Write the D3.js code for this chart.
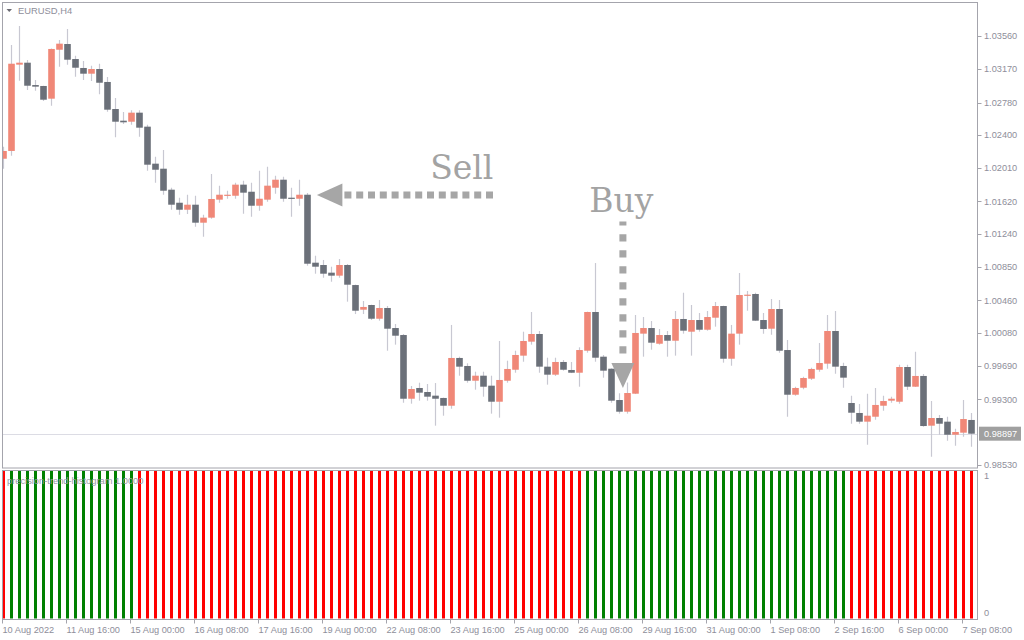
<!DOCTYPE html>
<html><head><meta charset="utf-8">
<script src="https://cdn.jsdelivr.net/npm/d3@7"></script>
<style>html,body{margin:0;padding:0;background:#fff;overflow:hidden}svg{display:block}</style>
</head><body><svg id="c" width="1024" height="640"></svg>
<script>
// ---------- DATA ----------
const symbol = "EURUSD,H4";
const indicatorName = "precision-trend-histogram 1.0000";
const open = [
1.02121,1.02212,1.03224,1.03247,1.02985,1.02974,1.02825,1.03399,1.03466,1.03290,
1.03185,1.03118,1.03173,1.03021,1.02704,1.02567,1.02555,1.02661,1.02497,1.02063,
1.02004,1.01758,1.01605,1.01523,1.01582,1.01371,1.01430,1.01641,1.01687,1.01687,
1.01817,1.01734,1.01570,1.01641,1.01781,1.01875,1.01664,1.01652,1.01699,1.00902,
1.00875,1.00785,1.00750,1.00875,1.00640,1.00351,1.00406,1.00245,1.00371,1.00136,
1.00054,0.99307,0.99433,0.99386,0.99343,0.99316,0.99225,0.99785,0.99691,0.99518,
0.99577,0.99460,0.99272,0.99518,0.99647,0.99812,0.99976,1.00066,0.99683,0.99589,
0.99738,0.99644,0.99612,0.99870,1.00324,0.99800,0.99659,0.99292,0.99155,0.99366,
1.00070,1.00136,0.99952,1.00054,0.99987,1.00242,1.00093,1.00230,1.00116,1.00257,
1.00394,0.99776,1.00070,1.00515,1.00535,1.00230,1.00128,1.00359,0.99878,0.99354,
0.99436,0.99542,0.99647,0.99718,1.00101,0.99691,0.99257,0.99140,0.99038,0.99096,
0.99225,0.99284,0.99272,0.99679,0.99448,0.99574,0.98991,0.99081,0.99038,0.98885,
0.98909,0.99058];
const high = [
1.02262,1.03454,1.03677,1.03279,1.03044,1.02978,1.03412,1.03513,1.03642,1.03329,
1.03267,1.03212,1.03235,1.03079,1.02833,1.02669,1.02689,1.02689,1.02520,1.02145,
1.02223,1.01781,1.01664,1.01699,1.01687,1.01465,1.01942,1.01805,1.01746,1.01840,
1.01863,1.01840,1.01981,1.02028,1.01922,1.01910,1.01781,1.01875,1.01719,1.00984,
1.00934,1.00855,1.00945,1.00887,1.00645,1.00453,1.00410,1.00465,1.00394,1.00183,
1.00066,0.99456,0.99495,0.99480,0.99491,0.99320,1.00172,0.99800,0.99722,0.99624,
0.99624,0.99577,0.99984,0.99753,0.99870,1.00093,1.00324,1.00101,0.99788,0.99788,
0.99761,0.99738,0.99910,1.00328,1.00898,0.99820,0.99663,0.99371,0.99497,1.00289,
1.00265,1.00218,1.00125,1.00101,1.00336,1.00550,1.00406,1.00312,1.00336,1.00441,
1.00398,1.00172,1.00781,1.00570,1.00550,1.00312,1.00476,1.00465,0.99996,0.99448,
0.99565,0.99671,0.99960,1.00289,1.00336,0.99730,0.99343,0.99245,0.99366,0.99433,
0.99343,0.99331,0.99706,0.99706,0.99858,0.99597,0.99280,0.99116,0.99096,0.98956,
0.99292,0.99140];
const low = [
1.02004,1.02157,1.03036,1.02927,1.02919,1.02798,1.02743,1.03200,1.03224,1.03083,
1.03044,1.03032,1.02876,1.02672,1.02372,1.02528,1.02520,1.02379,1.01981,1.01840,
1.01699,1.01523,1.01465,1.01473,1.01324,1.01207,1.01418,1.01605,1.01652,1.01652,
1.01476,1.01441,1.01512,1.01617,1.01711,1.01617,1.01441,1.01570,1.00867,1.00773,
1.00726,1.00679,1.00726,1.00445,1.00300,1.00300,1.00230,1.00222,0.99870,0.99941,
0.99260,0.99249,0.99284,0.99284,0.98991,0.99108,0.99190,0.99577,0.99495,0.99413,
0.99331,0.99132,0.99085,0.99495,0.99612,0.99741,0.99941,0.99612,0.99472,0.99574,
0.99636,0.99608,0.99448,0.99847,0.99741,0.99554,0.99260,0.99132,0.99132,0.99362,
0.99800,0.99882,0.99941,0.99800,0.99812,1.00070,0.99812,1.00093,1.00105,1.00152,
0.99730,0.99694,0.99941,1.00339,1.00218,1.00070,1.00058,0.99847,0.99096,0.99343,
0.99418,0.99527,0.99624,0.99659,0.99601,0.99436,0.99014,0.99014,0.98768,0.99061,
0.99167,0.99260,0.99249,0.99409,0.99444,0.98979,0.98627,0.98885,0.98815,0.98756,
0.98862,0.98745];
const close = [
1.02212,1.03235,1.03247,1.02977,1.02966,1.02813,1.03408,1.03470,1.03282,1.03188,
1.03118,1.03173,1.03012,1.02696,1.02555,1.02548,1.02661,1.02485,1.02051,1.01992,
1.01746,1.01582,1.01523,1.01582,1.01371,1.01430,1.01649,1.01699,1.01699,1.01817,
1.01723,1.01570,1.01652,1.01805,1.01875,1.01652,1.01652,1.01699,1.00890,1.00855,
1.00773,1.00750,1.00875,1.00644,1.00339,1.00383,1.00245,1.00371,1.00128,1.00046,
0.99307,0.99421,0.99378,0.99331,0.99307,0.99225,0.99785,0.99683,0.99518,0.99577,
0.99448,0.99272,0.99527,0.99656,0.99820,0.99984,1.00066,0.99683,0.99589,0.99738,
0.99647,0.99612,0.99878,1.00324,0.99788,0.99636,0.99284,0.99155,0.99374,1.00078,
1.00136,0.99964,1.00054,0.99987,1.00242,1.00105,1.00230,1.00116,1.00265,1.00394,
0.99776,1.00070,1.00523,1.00527,1.00222,1.00125,1.00359,0.99870,0.99354,0.99433,
0.99550,0.99656,0.99726,1.00101,0.99683,0.99554,0.99143,0.99038,0.99108,0.99234,
0.99280,0.99307,0.99679,0.99448,0.99574,0.98987,0.99081,0.99014,0.98885,0.98917,
0.99069,0.98897];
// histogram: +1 = up (green), -1 = down (red); every bar has height 1
const trend = [
-1, 1, 1, 1, 1, 1, 1, 1, 1, 1,
 1, 1, 1, 1, 1, 1, 1,-1,-1,-1,
-1,-1,-1,-1,-1,-1,-1,-1,-1,-1,
-1,-1,-1,-1,-1,-1,-1,-1,-1,-1,
-1,-1,-1,-1,-1,-1,-1,-1,-1,-1,
-1,-1,-1,-1,-1,-1,-1,-1,-1,-1,
-1,-1,-1,-1,-1,-1,-1,-1,-1,-1,
-1,-1,-1, 1, 1, 1, 1, 1, 1, 1,
 1, 1, 1, 1, 1, 1, 1, 1, 1, 1,
 1, 1, 1, 1, 1, 1, 1, 1, 1, 1,
 1, 1, 1, 1, 1, 1,-1,-1,-1,-1,
-1,-1,-1,-1,-1,-1,-1,-1,-1,-1,
-1,-1];
const histValue = 1;
const priceTicks = [1.03560,1.03170,1.02780,1.02400,1.02010,1.01620,1.01240,1.00850,1.00460,1.00080,0.99690,0.99300,0.98530];
const timeTickLabels = ["10 Aug 2022","11 Aug 16:00","15 Aug 00:00","16 Aug 08:00","17 Aug 16:00","19 Aug 00:00","22 Aug 08:00","23 Aug 16:00","25 Aug 00:00","26 Aug 08:00","29 Aug 16:00","31 Aug 00:00","1 Sep 08:00","2 Sep 16:00","6 Sep 00:00","7 Sep 08:00"];
const timeTickEvery = 8; // bars between time labels
const currentPrice = 0.98897;
const sellSignal = {bar: 38, price: 1.01695, label: "Sell"};
const buySignal = {bar: 77, price: 0.99433, label: "Buy"};

// ---------- COLOURS ----------
const C = {bull:"#f08878", bear:"#6b7079", wick:"#c8c8d2", frame:"#a4a4ac", text:"#8e8e9a",
  green:"#008000", red:"#ff0000", arrow:"#a6a6a6", cur:"#dcdce4", curBox:"#a0a0a0"};
const FONT = "'Liberation Sans', Arial, sans-serif";

// ---------- SCALES ----------
const n = open.length;
const x = d3.scaleBand().domain(d3.range(n)).range([-0.6, 975.4]);
const cx = i => x(i) + x.bandwidth() / 2;
const y = d3.scaleLinear().domain([0.98530, 1.03560]).range([465, 36]);
const hy = d3.scaleLinear().domain([0, 1]).range([618.5, 471]);

const svg = d3.select("#c");
const defs = svg.append("defs");
defs.append("clipPath").attr("id","mainClip").append("rect").attr("x",2.5).attr("y",2.5).attr("width",975).attr("height",465.5);
defs.append("clipPath").attr("id","histClip").append("rect").attr("x",2.5).attr("y",470.5).attr("width",975).attr("height",149);

// ---------- MAIN PANEL ----------
const main = svg.append("g").attr("clip-path","url(#mainClip)");
main.append("line").attr("x1",2).attr("x2",978).attr("y1",Math.round(y(currentPrice))+0.5).attr("y2",Math.round(y(currentPrice))+0.5)
  .attr("stroke",C.cur).attr("stroke-width",1);

const bars = d3.range(n);
main.append("g").selectAll("line").data(bars).join("line")
  .attr("x1", i => Math.round(cx(i)) + 0.5).attr("x2", i => Math.round(cx(i)) + 0.5)
  .attr("y1", i => y(high[i])).attr("y2", i => y(low[i]))
  .attr("stroke", C.wick).attr("stroke-width", 1.2);
const bw = 6.6;
main.append("g").selectAll("rect").data(bars).join("rect")
  .attr("x", i => Math.round(cx(i)) + 0.5 - bw/2)
  .attr("width", bw)
  .attr("y", i => y(Math.max(open[i], close[i])))
  .attr("height", i => Math.max(1.2, Math.abs(y(open[i]) - y(close[i]))))
  .attr("fill", i => close[i] >= open[i] ? C.bull : C.bear);

// Sell annotation
{
  const tx = cx(sellSignal.bar) + 9.5, ty = y(sellSignal.price);
  const g = svg.append("g");
  g.append("path").attr("d", `M${tx},${ty} L${tx+25.5},${ty-11.5} L${tx+25.5},${ty+11.5} Z`).attr("fill", C.arrow);
  g.append("line").attr("x1", tx+27.5).attr("x2", tx+176.5).attr("y1", ty).attr("y2", ty)
    .attr("stroke", C.arrow).attr("stroke-width", 7).attr("stroke-dasharray","7 4.8");
  g.append("text").attr("x", tx+176.5).attr("y", ty-16.5).attr("text-anchor","end")
    .attr("font-family","'DejaVu Serif', serif").attr("font-size", 33).attr("fill","#a3a3a3").text(sellSignal.label);
}
// Buy annotation
{
  const tx = cx(buySignal.bar) + 3.5, ty = y(buySignal.price);
  const g = svg.append("g");
  g.append("line").attr("x1", tx).attr("x2", tx).attr("y1", ty-166.5).attr("y2", ty-26)
    .attr("stroke", C.arrow).attr("stroke-width", 7).attr("stroke-dasharray","7.3 8.7").attr("stroke-dashoffset", 3.3);
  g.append("path").attr("d", `M${tx},${ty} L${tx-11.5},${ty-25} L${tx+11.5},${ty-25} Z`).attr("fill", C.arrow);
  g.append("text").attr("x", tx-1.5).attr("y", ty-176).attr("text-anchor","middle")
    .attr("font-family","'DejaVu Serif', serif").attr("font-size", 33).attr("fill","#a3a3a3").text(buySignal.label);
}

// ---------- HISTOGRAM PANEL ----------
const hist = svg.append("g").attr("clip-path","url(#histClip)");
hist.selectAll("rect").data(bars).join("rect")
  .attr("x", i => Math.round(cx(i)) + 0.5 - 1.5).attr("width", 3)
  .attr("y", hy(histValue)).attr("height", hy(0) - hy(histValue))
  .attr("fill", i => trend[i] > 0 ? C.green : C.red);

// ---------- FRAMES ----------
svg.append("rect").attr("x",2.5).attr("y",2.5).attr("width",975).attr("height",465.5).attr("fill","none").attr("stroke",C.frame);
svg.append("rect").attr("x",2.5).attr("y",470.5).attr("width",975).attr("height",149).attr("fill","none").attr("stroke",C.frame);

// title
svg.append("path").attr("d","M6.5,9 L12,9 L9.25,12 Z").attr("fill","#6a6a72");
svg.append("text").attr("x",18).attr("y",14).attr("font-family",FONT).attr("font-size",9.4).attr("fill",C.text).text(symbol);
svg.append("text").attr("x",7).attr("y",483.5).attr("font-family",FONT).attr("font-size",9.3).attr("fill","#9a9aa4").text(indicatorName);

// ---------- PRICE AXIS ----------
const pa = svg.append("g");
pa.selectAll("line").data(priceTicks).join("line")
  .attr("x1",978).attr("x2",981.5).attr("y1",d=>Math.round(y(d))+0.5).attr("y2",d=>Math.round(y(d))+0.5)
  .attr("stroke",C.frame);
pa.selectAll("text").data(priceTicks).join("text")
  .attr("x",984).attr("y",d=>y(d)).attr("dy","0.35em")
  .attr("font-family",FONT).attr("font-size",9.2).attr("fill",C.text).text(d=>d.toFixed(5));
{
  const yc = y(currentPrice);
  svg.append("rect").attr("x",979).attr("y",yc-7).attr("width",42).attr("height",14).attr("fill",C.curBox);
  svg.append("text").attr("x",984).attr("y",yc).attr("dy","0.35em").attr("font-family",FONT).attr("font-size",9.2)
    .attr("fill","#fff").text(currentPrice.toFixed(5));
}
svg.append("text").attr("x",984).attr("y",hy(1)+2).attr("dominant-baseline","hanging").attr("font-family",FONT).attr("font-size",9.2).attr("fill",C.text).text("1");
svg.append("text").attr("x",984).attr("y",hy(0)-3).attr("font-family",FONT).attr("font-size",9.2).attr("fill",C.text).text("0");

// ---------- TIME AXIS ----------
const ta = svg.append("g");
const tickIdx = timeTickLabels.map((_, k) => k * timeTickEvery);
ta.selectAll("line").data(tickIdx).join("line")
  .attr("x1", i => Math.round(cx(i)) - 0.5).attr("x2", i => Math.round(cx(i)) - 0.5)
  .attr("y1", 619.5).attr("y2", 623.5).attr("stroke", C.frame);
ta.selectAll("text").data(tickIdx).join("text")
  .attr("x", i => Math.round(cx(i)) - 0.5).attr("y", 632.5)
  .attr("font-family",FONT).attr("font-size",9.2).attr("fill",C.text)
  .text((_, k) => timeTickLabels[k]);
</script>
</body></html>
